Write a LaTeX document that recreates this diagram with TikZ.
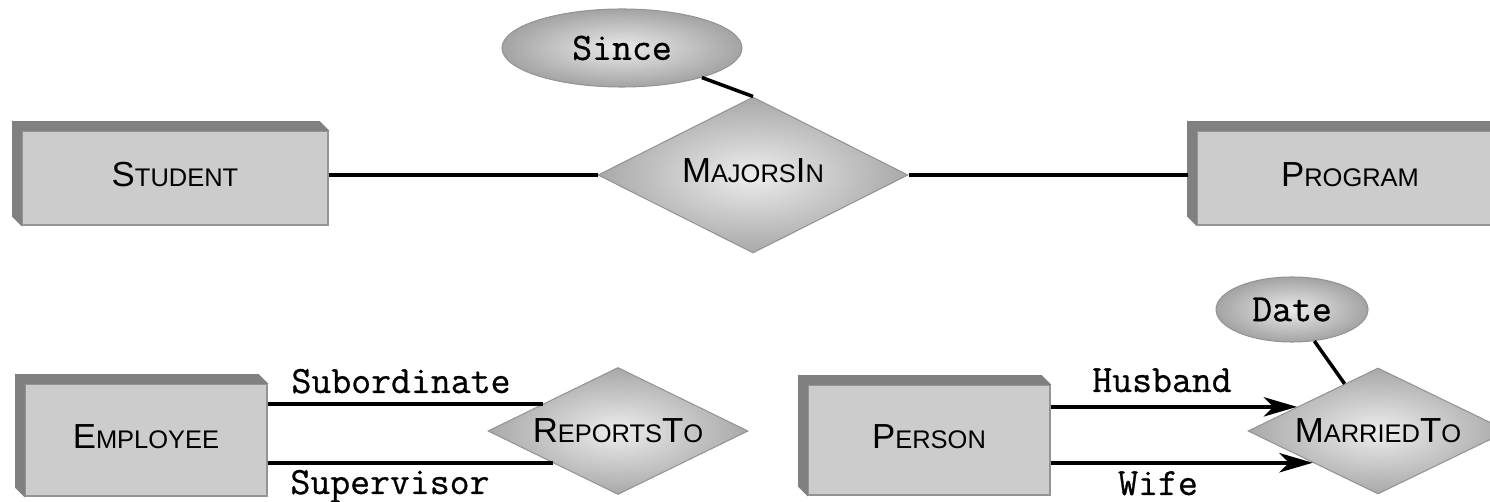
\documentclass[tikz,border=0pt]{standalone}
\usepackage{fontspec}
\newfontfamily\hsans{Liberation Sans}
\newfontfamily\tmono[FakeBold=0.7]{Latin Modern Mono}
\usetikzlibrary{shapes.geometric,arrows.meta,calc}
\newcommand{\mysc}[2]{{\fontsize{19.8pt}{22pt}\selectfont #1}{\fontsize{14.5pt}{16pt}\selectfont #2}}
\tikzset{
  entity/.style={rectangle, draw=black!42, line width=0.6pt, fill=black!20, inner sep=0pt, text depth=4.5pt, font=\hsans},
  band/.style={fill=black!50, draw=black!50, line width=0.4pt},
  rel/.style={diamond, shape aspect=2, draw=black!42, line width=0.6pt, inner sep=0pt, shading=radial, inner color=black!7, outer color=black!34, font=\hsans},
  attr/.style={ellipse, draw=black!42, line width=0.6pt, inner sep=0pt, shading=radial, inner color=black!8, outer color=black!36, font=\tmono\fontsize{22pt}{24pt}\selectfont},
  link/.style={line width=2pt, black},
  arrowlink/.style={link, -{Stealth[length=19pt,width=11pt,inset=5.5pt]}},
  role/.style={font=\tmono\fontsize{22pt}{24pt}\selectfont, inner sep=0pt, anchor=base}
}
\begin{document}
\begin{tikzpicture}[x=0.02cm, y=-0.02cm]
\useasboundingbox (0,0) rectangle (1490,502);
% entities
\node[entity, minimum width=6.12cm, minimum height=1.88cm] (student) at (175,178) {\mysc{S}{TUDENT}};
\node[entity, minimum width=6.12cm, minimum height=1.88cm] (program) at (1350,178) {\mysc{P}{ROGRAM}};
\node[entity, minimum width=4.84cm, minimum height=2.24cm] (employee) at (146,440) {\mysc{E}{MPLOYEE}};
\node[entity, minimum width=4.84cm, minimum height=2.2cm] (person) at (929,440) {\mysc{P}{ERSON}};
\foreach \n in {student,program,employee,person}{
  \filldraw[band] (\n.north west) -- ++(-9,-9) -- ($(\n.north east)+(-9,-9)$) -- (\n.north east) -- cycle;
  \filldraw[band] (\n.north west) -- ++(-9,-9) -- ($(\n.south west)+(-9,-9)$) -- (\n.south west) -- cycle;
}
% relationships
\node[rel, minimum width=6.2cm, minimum height=3.12cm, text depth=5pt] (majors) at (753,175) {\mysc{M}{AJORS}\mysc{I}{N}};
\node[rel, minimum width=5.2cm, minimum height=2.54cm] (reports) at (618,431) {\mysc{R}{EPORTS}\mysc{T}{O}};
\node[rel, minimum width=5.2cm, minimum height=2.52cm] (married) at (1378,431) {\mysc{M}{ARRIED}\mysc{T}{O}};
% attributes
\node[attr, minimum width=4.8cm, minimum height=1.56cm] (since) at (622,48) {Since};
\node[attr, minimum width=3.04cm, minimum height=1.3cm] (date) at (1292,309.5) {Date};
% connectors
\draw[link] (majors.west) -- (majors.west -| student.east);
\draw[link] (majors.east) -- ($(majors.east -| program.west)+(-9,0)$);
\draw[link] (since) -- (majors.north);
\draw[link] (date) -- (married);
\coordinate (rt) at ($(reports.west)!0.425!(reports.north)$);
\coordinate (rb) at ($(reports.west)!0.50!(reports.south)$);
\draw[link] (employee.east |- rt) -- (rt);
\draw[link] (employee.east |- rb) -- (rb);
\coordinate (mt) at ($(married.west)!0.38!(married.north)$);
\coordinate (mb) at ($(married.west)!0.50!(married.south)$);
\draw[arrowlink] (person.east |- mt) -- (mt);
\draw[arrowlink] (person.east |- mb) -- (mb);
% role labels
\node[role] (sub) at (401,393) {Subordinate};
\node[role] (sup) at (390,494) {Supervisor};
\node[role] (hus) at (1162,392) {Husband};
\node[role] (wife) at (1158,495) {Wife};
\end{tikzpicture}
\end{document}
